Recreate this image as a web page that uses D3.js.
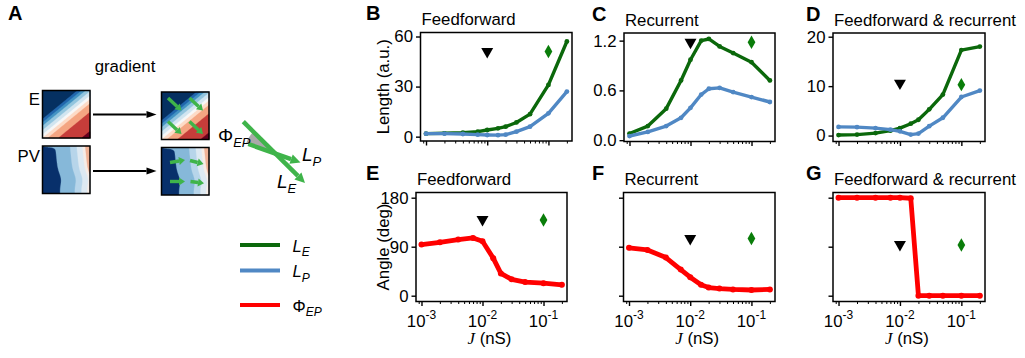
<!DOCTYPE html>
<html>
<head>
<meta charset="utf-8">
<script src="https://cdn.jsdelivr.net/npm/d3@7"></script>
<style>
  body { margin: 0; background: #fff; }
  svg { font-family: Arial, 'Liberation Sans', sans-serif; }
</style>
</head>
<body>
<svg id="figura" width="1025" height="358"></svg>
<script>
// valores de J (nS) usados em todas as curvas
const valoresJ = [0.001, 0.002, 0.004, 0.007, 0.01, 0.015, 0.02, 0.03, 0.05, 0.1, 0.2];
const ticksJ = [0.001, 0.01, 0.1];
const expoentesJ = ['-3', '-2', '-1'];
const ticksMenoresJ = [0.0009, 0.002, 0.003, 0.004, 0.005, 0.006, 0.007, 0.008, 0.009,
  0.02, 0.03, 0.04, 0.05, 0.06, 0.07, 0.08, 0.09, 0.2];
const marcasJ = [0.01, 0.1]; // triangulo, losango

// B, C, D: comprimento (a.u.)
const LE_feedforward = [1.8, 2.0, 2.4, 3.0, 4.0, 5.0, 6.0, 8.5, 13.5, 31, 57];
const LP_feedforward = [1.8, 1.8, 1.6, 1.2, 1.0, 0.9, 1.2, 3.0, 6.0, 14, 27];
const LE_recorrente = [0.08, 0.17, 0.38, 0.72, 0.97, 1.2, 1.22, 1.13, 1.05, 0.94, 0.72];
const LP_recorrente = [0.05, 0.1, 0.17, 0.27, 0.39, 0.55, 0.62, 0.63, 0.58, 0.52, 0.46];
const LE_ambos = [0.1, 0.2, 0.5, 1.0, 1.5, 2.4, 3.2, 5.3, 8.3, 17.3, 18];
const LP_ambos = [1.75, 1.7, 1.5, 1.2, 0.85, 0.2, 0.4, 1.9, 3.6, 7.8, 9.1];

// E, F, G: angulo (graus)
const fi_feedforward = [94, 98, 103, 106, 100, 69, 41, 30, 25, 23, 20];
const fi_recorrente = [88, 84, 70, 48, 34, 20, 15, 13, 11.5, 10.5, 11.5];
const fi_ambos = [180, 180, 180, 180, 180, 179, 0, 0, 0, 0, 0];

// altura do triangulo e do losango em cada painel
const marcas_B = [51, 51];
const marcas_C = [1.18, 1.18];
const marcas_D = [10.6, 10.3];
const marcas_E = [140, 139];
const marcas_F = [105, 105];
const marcas_G = [94, 93];

const corE = '#0b680b';
const corP = '#5088c4';
const corFi = '#ff0000';
const verdeA = '#3fb44a';
const fonte = 16.8;

const svg = d3.select('#figura');
const dominioJ = [Math.pow(10, -3.09), Math.pow(10, -0.615)];

function criaPainel(p) {
  const g = svg.append('g').attr('transform', `translate(${p.x}, ${p.y})`);
  const x = d3.scaleLog().domain(dominioJ).range([0, p.w]);
  const y = d3.scaleLinear().domain(p.dominioY).range([p.h, 0]);

  // ticks menores e maiores do eixo x
  g.append('g').attr('transform', `translate(0, ${p.h})`)
    .call(d3.axisBottom(x).tickValues(ticksMenoresJ).tickSize(2.5).tickFormat(''))
    .call(s => s.select('.domain').remove())
    .call(s => s.selectAll('line').attr('stroke-width', 1));

  g.append('g').attr('transform', `translate(0, ${p.h})`)
    .call(d3.axisBottom(x).tickValues(ticksJ).tickSize(4.5).tickFormat(''))
    .call(s => s.select('.domain').remove())
    .call(s => s.selectAll('line').attr('stroke-width', 1.4));

  if (p.rotulosX) {
    const t = g.selectAll('.rotuloX').data(ticksJ).enter().append('text')
      .attr('x', d => x(d)).attr('y', p.h + 25)
      .attr('text-anchor', 'middle').attr('font-size', fonte);
    t.append('tspan').text('10');
    t.append('tspan').attr('dy', -7.5).attr('font-size', 12).text((d, i) => expoentesJ[i]);

    const tx = g.append('text').attr('x', p.w / 2 - 2).attr('y', p.h + 42)
      .attr('text-anchor', 'middle').attr('font-size', fonte);
    tx.append('tspan').attr('font-family', "'Liberation Serif', 'DejaVu Serif', serif")
      .attr('font-style', 'italic').text('J');
    tx.append('tspan').text(' (nS)');
  }

  const eixoY = d3.axisLeft(y).tickValues(p.ticksY).tickSize(4.5).tickPadding(3)
    .tickFormat(p.rotulosY ? p.formatoY : '');
  g.append('g').call(eixoY)
    .attr('font-family', null).attr('font-size', fonte)
    .call(s => s.select('.domain').remove())
    .call(s => s.selectAll('line').attr('stroke-width', 1.4))
    .call(s => s.selectAll('text').attr('fill', '#000'));

  g.append('defs').append('clipPath').attr('id', 'clip' + p.letra)
    .append('rect').attr('width', p.w).attr('height', p.h);

  const linha = d3.line().x((d, i) => x(valoresJ[i])).y(d => y(d));
  const area = g.append('g').attr('clip-path', `url(#clip${p.letra})`);

  p.series.forEach(s => {
    area.append('path').datum(s.valores)
      .attr('d', linha).attr('fill', 'none')
      .attr('stroke', s.cor).attr('stroke-width', s.espessura)
      .attr('stroke-linejoin', 'round').attr('stroke-linecap', 'round');
    area.selectAll(null).data(s.valores).enter().append('circle')
      .attr('cx', (d, i) => x(valoresJ[i])).attr('cy', d => y(d))
      .attr('r', s.raio).attr('fill', s.cor);
  });

  // triangulo preto e losango verde
  g.append('path')
    .attr('d', d3.symbol(d3.symbolTriangle, 62)())
    .attr('transform', `translate(${x(marcasJ[0])}, ${y(p.marcas[0])}) rotate(180)`)
    .attr('fill', '#000');
  g.append('path')
    .attr('d', d3.symbol(d3.symbolDiamond, 52)())
    .attr('transform', `translate(${x(marcasJ[1])}, ${y(p.marcas[1])})`)
    .attr('fill', '#0a7d0a');

  g.append('rect').attr('width', p.w).attr('height', p.h)
    .attr('fill', 'none').attr('stroke', '#000').attr('stroke-width', 1.5);

  g.append('text').attr('x', 1).attr('y', -7.5).attr('font-size', fonte).text(p.titulo);
  svg.append('text').attr('x', p.xLetra).attr('y', p.y - 12.5)
    .attr('font-size', 20).attr('font-weight', 'bold').text(p.letra);

  if (p.tituloY) {
    svg.append('text')
      .attr('text-anchor', 'middle').attr('font-size', fonte)
      .attr('transform', `translate(389, ${p.y + p.h / 2}) rotate(-90)`)
      .text(p.tituloY);
  }
}

const fmtComprimento = d3.format('d');
const paineis = [
  { letra: 'B', xLetra: 366, x: 420.5, y: 32.5, w: 151.5, h: 108.5, titulo: 'Feedforward',
    dominioY: [-2.6, 62.4], ticksY: [0, 30, 60], rotulosY: true, formatoY: fmtComprimento,
    tituloY: 'Length (a.u.)', marcas: marcas_B,
    series: [{ valores: LE_feedforward, cor: corE, espessura: 3.4, raio: 2.4 },
             { valores: LP_feedforward, cor: corP, espessura: 3.4, raio: 2.4 }] },
  { letra: 'C', xLetra: 592, x: 624, y: 33, w: 151, h: 108.5, titulo: 'Recurrent',
    dominioY: [-0.016, 1.292], ticksY: [0, 0.6, 1.2], rotulosY: true, formatoY: d3.format('.1f'),
    marcas: marcas_C,
    series: [{ valores: LE_recorrente, cor: corE, espessura: 3.4, raio: 2.4 },
             { valores: LP_recorrente, cor: corP, espessura: 3.4, raio: 2.4 }] },
  { letra: 'D', xLetra: 806, x: 833, y: 33, w: 152, h: 108.5, titulo: 'Feedforward & recurrent',
    dominioY: [-1.2, 20.75], ticksY: [0, 10, 20], rotulosY: true, formatoY: fmtComprimento,
    marcas: marcas_D,
    series: [{ valores: LE_ambos, cor: corE, espessura: 3.4, raio: 2.4 },
             { valores: LP_ambos, cor: corP, espessura: 3.4, raio: 2.4 }] },
  { letra: 'E', xLetra: 366, x: 416, y: 192.5, w: 151, h: 109, titulo: 'Feedforward',
    dominioY: [-10.65, 189.55], ticksY: [0, 90, 180], rotulosY: true, formatoY: fmtComprimento,
    tituloY: 'Angle (deg)', marcas: marcas_E, rotulosX: true,
    series: [{ valores: fi_feedforward, cor: corFi, espessura: 4.8, raio: 3 }] },
  { letra: 'F', xLetra: 592, x: 623.5, y: 192.5, w: 151.5, h: 109, titulo: 'Recurrent',
    dominioY: [-10.65, 189.55], ticksY: [0, 90, 180], rotulosY: false,
    marcas: marcas_F, rotulosX: true,
    series: [{ valores: fi_recorrente, cor: corFi, espessura: 4.8, raio: 3 }] },
  { letra: 'G', xLetra: 806, x: 833, y: 192.5, w: 152, h: 109, titulo: 'Feedforward & recurrent',
    dominioY: [-10.65, 189.55], ticksY: [0, 90, 180], rotulosY: false,
    marcas: marcas_G, rotulosX: true,
    series: [{ valores: fi_ambos, cor: corFi, espessura: 4.8, raio: 3 }] }
];
paineis.forEach(criaPainel);

// ---------- painel A (esquema) ----------
function seta(g, x1, y1, x2, y2, cor, larg, compCabeca, largCabeca) {
  const ang = Math.atan2(y2 - y1, x2 - x1);
  const bx = x2 - compCabeca * Math.cos(ang), by = y2 - compCabeca * Math.sin(ang);
  g.append('line').attr('x1', x1).attr('y1', y1).attr('x2', bx).attr('y2', by)
    .attr('stroke', cor).attr('stroke-width', larg);
  const nx = -Math.sin(ang) * largCabeca / 2, ny = Math.cos(ang) * largCabeca / 2;
  g.append('path')
    .attr('d', `M${x2},${y2}L${bx + nx},${by + ny}L${bx - nx},${by - ny}Z`)
    .attr('fill', cor);
}

function campo(n, f) {
  const v = new Array(n * n);
  for (let j = 0; j < n; j++)
    for (let i = 0; i < n; i++) v[j * n + i] = f((i + 0.5) / n, (j + 0.5) / n);
  return v;
}

function desenhaCampo(g, valores, limiares, cores, x0, y0, lado) {
  const n = Math.sqrt(valores.length);
  const caminho = d3.geoPath(d3.geoIdentity().scale(lado / n));
  const q = g.append('g').attr('transform', `translate(${x0}, ${y0})`);
  q.append('rect').attr('width', lado).attr('height', lado).attr('fill', cores[0]);
  q.selectAll('path').data(d3.contours().size([n, n]).thresholds(limiares)(valores))
    .enter().append('path').attr('d', caminho)
    .attr('fill', (d, i) => cores[i + 1]).attr('stroke', (d, i) => cores[i + 1])
    .attr('stroke-width', 0.3);
  return q;
}

const limiaresE = [0.33, 0.37, 0.41, 0.46, 0.51, 0.55, 0.6, 0.7, 0.92];
const coresE = ['#053061', '#2166ac', '#4393c3', '#92c5de', '#d1e5f0', '#f7f7f7',
  '#fddbc7', '#f4a582', '#c63d3a', '#67001f'];
const limiaresPV = [0.32, 0.63, 0.77, 0.89, 0.95];
const coresPV = ['#08306b', '#86b8d9', '#b7d5ea', '#dde9f2', '#f6ece6', '#f0b296'];

function criaEsquema() {
  const a = svg.append('g');
  a.append('text').attr('x', 8).attr('y', 20).attr('font-size', 20)
    .attr('font-weight', 'bold').text('A');
  a.append('text').attr('x', 125).attr('y', 72).attr('text-anchor', 'middle')
    .attr('font-size', fonte).text('gradient');
  a.append('text').attr('x', 40).attr('y', 105).attr('text-anchor', 'end')
    .attr('font-size', fonte).text('E');
  a.append('text').attr('x', 40).attr('y', 161.5).attr('text-anchor', 'end')
    .attr('font-size', fonte).text('PV');

  const n = 60;
  const fE = campo(n, (x, y) => 0.45 * x + 0.55 * y);
  const fPV = campo(n, (x, y) => x - 0.1 * y + 0.05
    + 0.25 * Math.exp(-(y * y) / 0.003) * Math.exp(-(x * x) / 0.05)
    - 0.05 * Math.exp(-((y - 0.7) * (y - 0.7)) / 0.03));

  const quadros = [
    [fE, limiaresE, coresE, 42.5, 90.5],
    [fE, limiaresE, coresE, 161.5, 92],
    [fPV, limiaresPV, coresPV, 42.5, 146],
    [fPV, limiaresPV, coresPV, 161.5, 147.5]
  ];
  quadros.forEach(q => {
    const c = desenhaCampo(a, q[0], q[1], q[2], q[3], q[4], 47.5);
    c.append('rect').attr('width', 47.5).attr('height', 47.5)
      .attr('fill', 'none').attr('stroke', '#000').attr('stroke-width', 1.5);
  });

  seta(a, 93, 114.5, 156.5, 114.5, '#000', 1.8, 10, 7);
  seta(a, 93, 171, 156.5, 171, '#000', 1.8, 10, 7);

  // gradientes (setas verdes)
  [[168, 98, 181.5, 110.5], [189.5, 98, 203, 110.5],
   [168, 121.5, 181.5, 134], [189.5, 121.5, 203, 134]]
    .forEach(s => seta(a, s[0], s[1], s[2], s[3], verdeA, 3.4, 6, 8));
  [[170, 162.5, 185, 160], [190, 160.5, 203.5, 164],
   [170, 181.5, 185, 181.5], [190.5, 181.5, 204, 183.3]]
    .forEach(s => seta(a, s[0], s[1], s[2], s[3], verdeA, 3.4, 6, 8));

  // angulo entre L_E e L_P
  const vx = 275.5, vy = 153.5;
  const a1 = Math.atan2(121.7 - vy, 243.3 - vx), a2 = Math.atan2(144 - vy, 248.3 - vx);
  const pts = [[vx, vy]];
  for (let k = 0; k <= 10; k++) {
    const t = a1 + (a2 - a1) * k / 10;
    pts.push([vx + 31 * Math.cos(t), vy + 31 * Math.sin(t)]);
  }
  a.append('path').attr('d', d3.line()(pts) + 'Z').attr('fill', '#a9a9a9');
  seta(a, 248.3, 144, 300.5, 162.5, verdeA, 4.5, 10, 10);
  seta(a, 243.3, 121.7, 305, 183, verdeA, 4.5, 10, 10);

  const rotulo = (x, yb, principal, sub, tam, tamSub, italico) => {
    const t = a.append('text').attr('x', x).attr('y', yb).attr('font-size', tam);
    t.append('tspan').attr('font-style', italico ? 'italic' : null).text(principal);
    t.append('tspan').attr('dy', tam * 0.28).attr('font-size', tamSub)
      .attr('font-style', 'italic').text(sub);
  };
  rotulo(218, 141.5, 'Φ', 'EP', 19, 13, false);
  rotulo(302, 161, 'L', 'P', 19, 13, true);
  rotulo(277, 188, 'L', 'E', 19, 13, true);

  // legenda
  const legenda = [
    { cor: corE, y: 245, principal: 'L', sub: 'E', italico: true },
    { cor: corP, y: 270.5, principal: 'L', sub: 'P', italico: true },
    { cor: corFi, y: 305, principal: 'Φ', sub: 'EP', italico: false }
  ];
  legenda.forEach(l => {
    a.append('line').attr('x1', 240).attr('x2', 280).attr('y1', l.y).attr('y2', l.y)
      .attr('stroke', l.cor).attr('stroke-width', 4);
    rotulo(292.5, l.y + 6.5, l.principal, l.sub, 16.5, 12, l.italico);
  });
}
criaEsquema();
</script>
</body>
</html>
